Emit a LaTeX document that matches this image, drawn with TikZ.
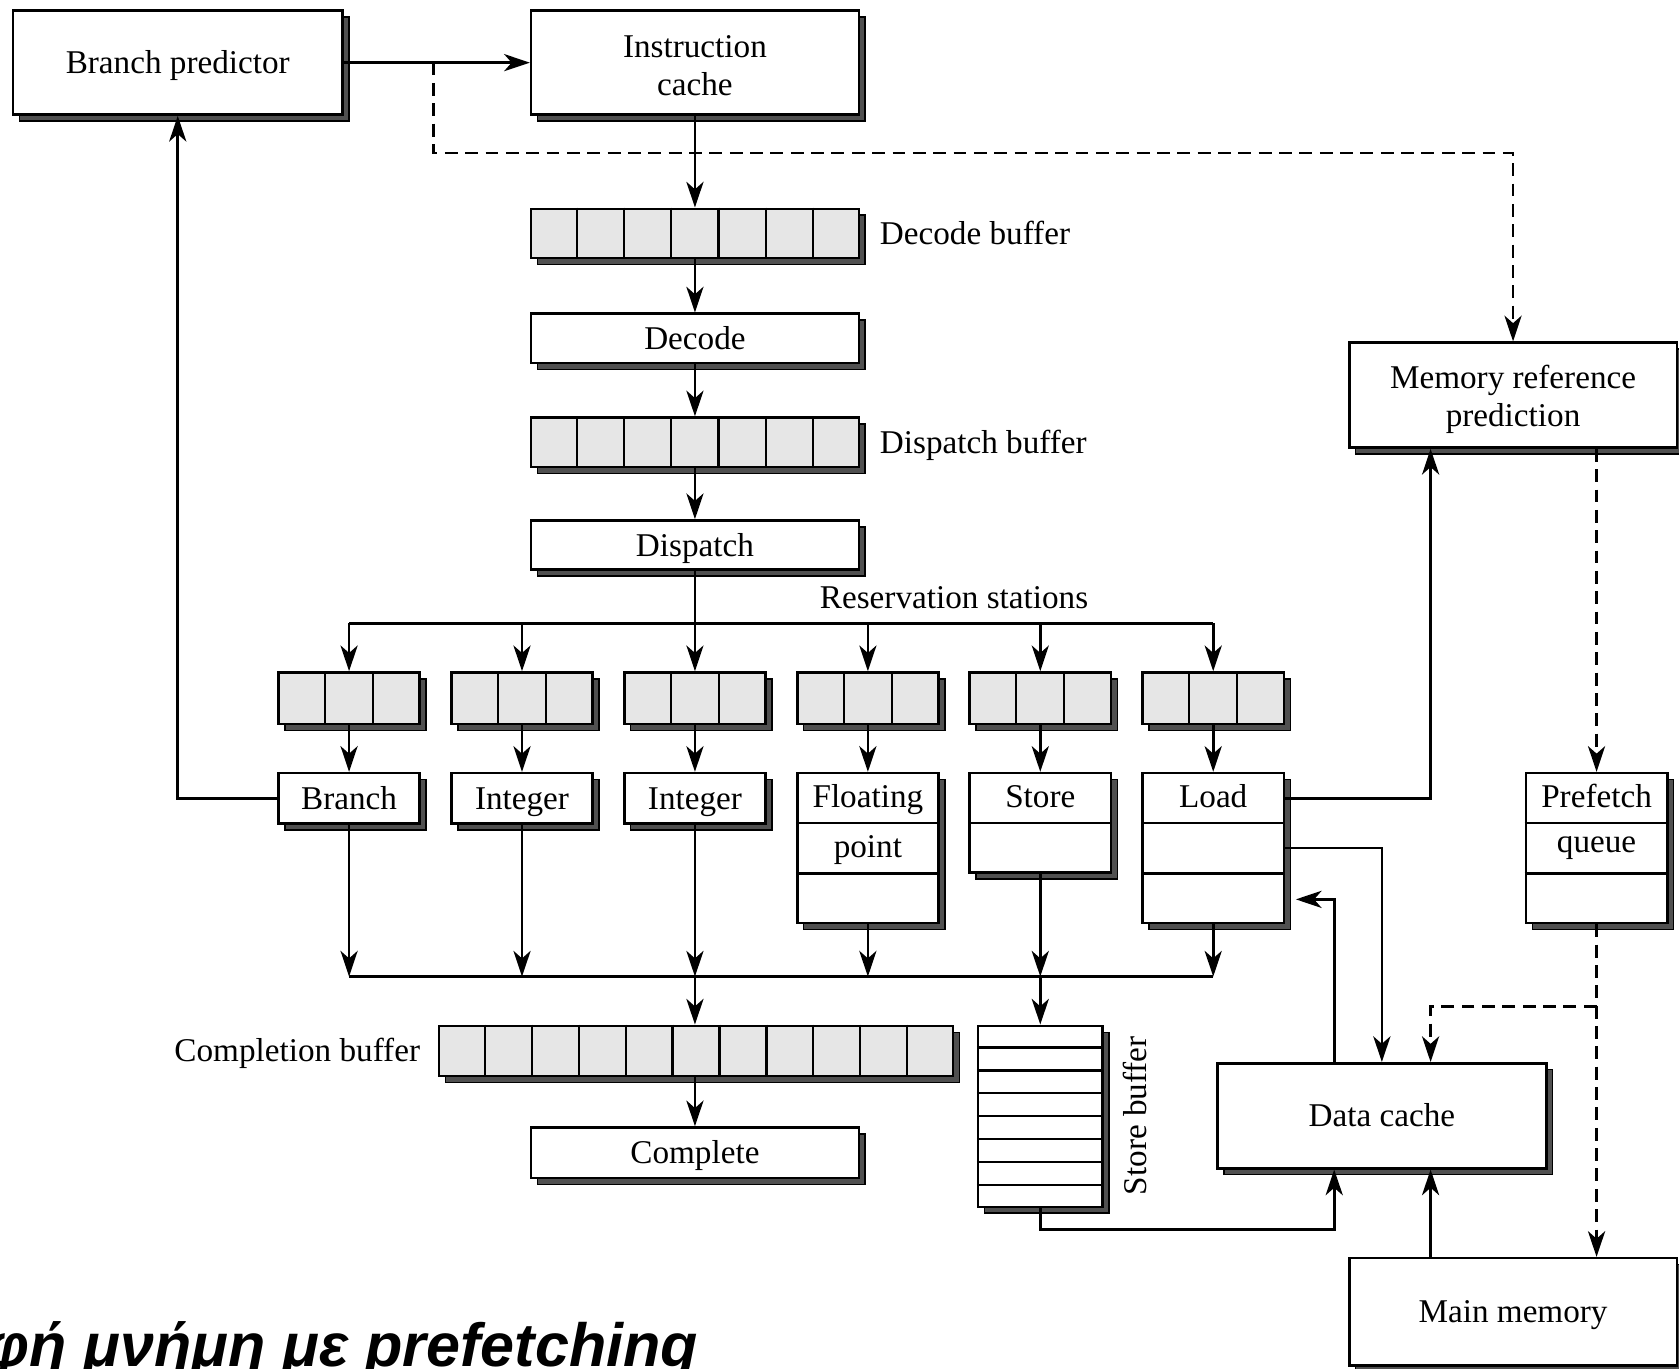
\documentclass[tikz,border=0pt]{standalone}
\usepackage{fontspec}
\setmainfont{Liberation Serif}
\newfontfamily\captionfont{Liberation Sans}
\usetikzlibrary{arrows.meta,shadows,calc}

\definecolor{cellgray}{HTML}{E6E6E6}
\definecolor{shadegray}{HTML}{505050}

\tikzset{
  lbl/.style={font=\fontsize{31}{35}\selectfont},
  oneline/.style={text height=20.5pt, text depth=0pt},
  shadowed/.style={drop shadow={shadow xshift=6pt, shadow yshift=-6pt,
      fill=shadegray, draw=black, line width=1.4pt, opacity=1}},
  unitbox/.style={draw=black, line width=2.4pt, fill=white, inner sep=0pt,
      align=center, lbl, shadowed},
  cellbuf/.style={unitbox, fill=cellgray},
  wire/.style={line width=2.5pt},
  divider/.style={line width=2pt},
  arr/.style={wire, -{Stealth[length=24pt, width=16pt, inset=7pt]}},
  darr/.style={arr, dash pattern=on 12pt off 7pt},
}

\begin{document}
\begin{tikzpicture}[x=1pt, y=-1pt]
\useasboundingbox (0,0) rectangle (1568,1278);
\clip (0,0) rectangle (1568,1278);

% ---- fetch / decode / dispatch column
\node[unitbox, oneline, minimum width=308pt, minimum height=97pt] (bp) at (166,58.5) {Branch predictor};
\node[unitbox, minimum width=306pt, minimum height=97pt] (ic) at (649,58.5) {};
\node[lbl, align=center] (ict) at ($(ic.center)+(0,3)$) {Instruction\\cache};
\node[cellbuf, minimum width=306pt, minimum height=46pt] (decbuf) at (649,218) {};
\node[unitbox, oneline, minimum width=306pt, minimum height=46pt] (dec) at (649,316) {Decode};
\node[cellbuf, minimum width=306pt, minimum height=46pt] (disbuf) at (649,413) {};
\node[unitbox, oneline, minimum width=306pt, minimum height=46pt] (dis) at (649,509) {Dispatch};

\node[lbl, oneline, anchor=west] (decbufl) at ($(decbuf.east)+(15,0)$) {Decode buffer};
\node[lbl, oneline, anchor=west] (disbufl) at ($(disbuf.east)+(15,0)$) {Dispatch buffer};

% ---- reservation stations and functional units
\foreach \n/\x in {rsbr/326,rsia/487.5,rsib/649,rsfp/810.5,rsst/971.5,rsld/1133}
  \node[cellbuf, minimum width=132pt, minimum height=48pt] (\n) at (\x,652) {};
\node[lbl, anchor=base] (rsl) at (891,568) {Reservation stations};

\node[unitbox, oneline, minimum width=132pt, minimum height=47pt] (ubr) at (326,745.5) {Branch};
\node[unitbox, oneline, minimum width=132pt, minimum height=47pt] (uia) at (487.5,745.5) {Integer};
\node[unitbox, oneline, minimum width=132pt, minimum height=47pt] (uib) at (649,745.5) {Integer};
\node[unitbox, minimum width=132pt, minimum height=140pt] (ufp) at (810.5,792) {};
\node[unitbox, minimum width=132pt, minimum height=93pt] (ust) at (971.5,768.5) {};
\node[unitbox, minimum width=132pt, minimum height=140pt] (uld) at (1133,792) {};

% ---- memory side
\node[unitbox, minimum width=306pt, minimum height=98pt] (mrp) at (1413,369) {};
\node[lbl, align=center] (mrpt) at ($(mrp.center)+(0,4)$) {Memory reference\\prediction};
\node[unitbox, minimum width=132pt, minimum height=140pt] (pq) at (1491,792) {};
\node[unitbox, oneline, minimum width=307pt, minimum height=98pt] (dc) at (1290.5,1042) {Data cache};
\node[unitbox, oneline, minimum width=306pt, minimum height=100pt] (mm) at (1413,1225) {Main memory};

% ---- completion
\node[cellbuf, minimum width=480pt, minimum height=47pt] (cb) at (650,981.5) {};
\node[lbl, oneline, anchor=east] (cbl) at ($(cb.west)+(-13,0)$) {Completion buffer};
\node[unitbox, oneline, minimum width=306pt, minimum height=47pt] (comp) at (649,1076.5) {Complete};
\node[unitbox, minimum width=116pt, minimum height=169pt] (sb) at (971.5,1042.5) {};
\node[lbl, oneline, rotate=90] (sbl) at (1060,1042) {Store buffer};

% ---- cell dividers of the buffers
\foreach \b/\m in {decbuf/6,disbuf/6,cb/10,rsbr/2,rsia/2,rsib/2,rsfp/2,rsst/2,rsld/2}{
  \foreach \i in {1,...,\m}{
    \pgfmathsetmacro\cellfrac{\i/(\m+1)}
    \draw[divider] ($(\b.north west)!\cellfrac!(\b.north east)$) -- ($(\b.south west)!\cellfrac!(\b.south east)$);
  }
}
% ---- row dividers of the stacked units
\foreach \b/\m in {ufp/2,uld/2,pq/2,ust/1,sb/7}{
  \foreach \i in {1,...,\m}{
    \pgfmathsetmacro\cellfrac{\i/(\m+1)}
    \draw[divider] ($(\b.north west)!\cellfrac!(\b.south west)$) -- ($(\b.north east)!\cellfrac!(\b.south east)$);
  }
}

% ---- row texts
\node[lbl, oneline] (fpa) at ($(ufp.north)+(0,23.3)$) {Floating};
\node[lbl, oneline] (fpb) at ($(ufp.north)+(0,70)$) {point};
\node[lbl, oneline] (sta) at ($(ust.north)+(0,23.3)$) {Store};
\node[lbl, oneline] (lda) at ($(uld.north)+(0,23.3)$) {Load};
\node[lbl, oneline] (pqa) at ($(pq.north)+(0,23.3)$) {Prefetch};
\node[lbl, oneline] (pqb) at ($(pq.north)+(0,65)$) {queue};

% ---- junction columns and points
\coordinate (fj) at (405,143);
\coordinate (tb) at (649,582);
\coordinate (bb) at (649,912);
\coordinate (xa) at (1246,1148);
\coordinate (xc) at (1336,940);
\coordinate (pj) at (1491,940);
\coordinate (ldin) at ($(uld.south east)+(10,-23.3)$);

% ---- front end connectors
\draw[arr] (bp.east) -- (ic.west);
\draw[darr] (bp.east -| fj) -- (fj) -| (mrp.north);
\draw[arr] (ic.south) -- (decbuf.north);
\draw[arr] (decbuf.south) -- (dec.north);
\draw[arr] (dec.south) -- (disbuf.north);
\draw[arr] (disbuf.south) -- (dis.north);

% ---- issue bus
\draw[wire] (rsbr.north |- tb) -- (rsld.north |- tb);
\draw[wire] (dis.south) -- (tb);
\foreach \n in {rsbr,rsia,rsib,rsfp,rsst,rsld}
  \draw[arr] (\n.north |- tb) -- (\n.north);
\foreach \r/\u in {rsbr/ubr,rsia/uia,rsib/uib,rsfp/ufp,rsst/ust,rsld/uld}
  \draw[arr] (\r.south) -- (\u.north);

% ---- result bus
\draw[wire] (ubr.south |- bb) -- (uld.south |- bb);
\foreach \u in {ubr,uia,uib,ufp,ust,uld}
  \draw[arr] (\u.south) -- (\u.south |- bb);
\draw[arr] (bb) -- (bb |- cb.north);
\draw[arr] (cb.south -| comp.north) -- (comp.north);
\draw[arr] (ust.south |- bb) -- (sb.north);

% ---- feedback and memory connectors
\draw[arr] (ubr.west) -| (bp.south);
\draw[arr] (uld.east |- ubr.east) -| (mrp.south -| xc);
\draw[arr] (uld.east) -| (dc.north);
\draw[arr] (dc.north -| xa) |- (ldin);
\draw[arr] (sb.south) |- (xa) -- (dc.south -| xa);
\draw[arr] (mm.north -| xc) -- (dc.south -| xc);
\draw[darr] (mrp.south -| pq.north) -- (pq.north);
\draw[darr] (pq.south) -- (pq.south |- mm.north);
\draw[darr] (pj) -| (dc.north -| xc);

% ---- caption
\node[font=\captionfont\bfseries\itshape\fontsize{57}{64}\selectfont, anchor=base east, inner sep=0pt] (cap) at (652,1276) {Κρυφή μνήμη με prefetching};
\end{tikzpicture}
\end{document}
